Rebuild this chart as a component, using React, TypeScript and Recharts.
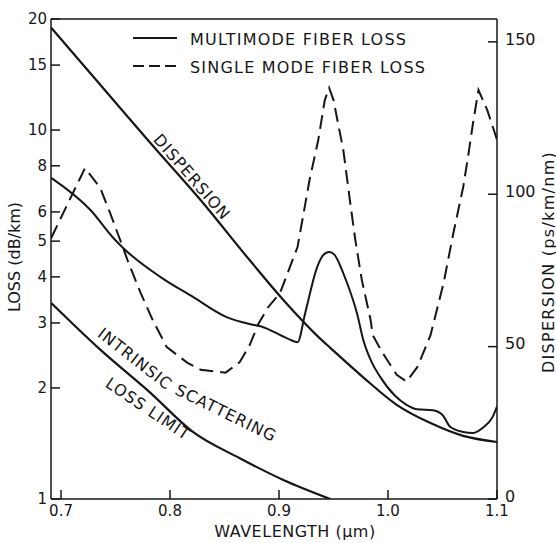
import { LineChart, Line, XAxis, YAxis, ReferenceLine } from 'recharts';

const FONT = '"DejaVu Sans", sans-serif';
const INK = '#161616';

const wavelengthTicks = [0.7, 0.8, 0.9, 1.0, 1.1];
const lossTicks = [1, 2, 3, 4, 5, 6, 7, 8, 9, 10, 15, 20];
const dispersionTicks = [0, 50, 100, 150];

// multimode fiber loss, dB/km
const multimodeWl = [0.691, 0.727, 0.748, 0.757, 0.791, 0.821, 0.852, 0.873, 0.883, 0.907, 0.917, 0.924, 0.935, 0.94, 0.946, 0.951, 0.956, 0.961, 0.966, 0.972, 0.977, 0.985, 0.993, 1.006, 1.017, 1.027, 1.041, 1.05, 1.057, 1.069, 1.078, 1.087, 1.096, 1.1];
const multimodeLoss = [7.42, 6.07, 5.1, 4.79, 4.0, 3.53, 3.11, 2.98, 2.94, 2.73, 2.66, 3.19, 4.25, 4.56, 4.67, 4.59, 4.3, 3.95, 3.6, 3.15, 2.72, 2.35, 2.14, 1.91, 1.8, 1.75, 1.74, 1.69, 1.57, 1.52, 1.51, 1.56, 1.67, 1.78];

// single mode fiber loss, dB/km
const singleWl = [0.691, 0.722, 0.736, 0.745, 0.757, 0.761, 0.773, 0.784, 0.797, 0.816, 0.828, 0.851, 0.864, 0.873, 0.881, 0.89, 0.901, 0.917, 0.928, 0.936, 0.942, 0.946, 0.95, 0.953, 0.959, 0.965, 0.97, 0.976, 0.984, 0.986, 0.995, 1.008, 1.017, 1.027, 1.039, 1.051, 1.06, 1.069, 1.073, 1.078, 1.083, 1.091, 1.098, 1.1];
const singleLoss = [5.1, 7.89, 6.97, 5.96, 4.79, 4.44, 3.62, 3.06, 2.58, 2.34, 2.24, 2.2, 2.35, 2.61, 2.98, 3.31, 3.62, 4.82, 7.32, 9.4, 12.06, 13.0, 12.06, 10.85, 8.83, 6.46, 5.04, 3.92, 3.06, 2.78, 2.49, 2.17, 2.08, 2.28, 2.78, 3.85, 5.26, 7.01, 8.3, 10.45, 12.84, 11.34, 9.82, 9.4];

// intrinsic scattering loss limit, dB/km
const scatterWl = [0.691, 0.736, 0.782, 0.821, 0.864, 0.904, 0.947];
const scatterLoss = [3.4, 2.54, 1.94, 1.52, 1.29, 1.126, 1.0];

// material dispersion, ps/km/nm (right axis)
const dispersionWl = [0.691, 0.736, 0.782, 0.828, 0.873, 0.904, 0.939, 0.947, 0.977, 1.008, 1.039, 1.069, 1.1];
const dispersionVal = [154.6, 135.9, 116.8, 98.1, 78.4, 65.3, 52.2, 49.6, 40.0, 30.9, 24.9, 20.7, 18.7];

const zip = (xs: number[], ys: number[]) => xs.map((wl, i) => ({ wl, v: ys[i] }));

const multimodeData = zip(multimodeWl, multimodeLoss);
const singleData = zip(singleWl, singleLoss);
const scatterData = zip(scatterWl, scatterLoss);
const dispersionData = zip(dispersionWl, dispersionVal);

const tickStyle = { fill: INK, fontSize: 15, fontFamily: FONT };
const labelStyle = { fill: INK, fontSize: 16, fontFamily: FONT };

export default function App() {
  return (
    <div style={{ position: 'absolute', left: 0, top: 0, background: '#fff' }}>
      <LineChart width={556} height={543} margin={{ top: 19, right: 0, bottom: 0, left: 0 }}>
        <XAxis
          type="number"
          dataKey="wl"
          domain={[0.6908, 1.1]}
          ticks={wavelengthTicks}
          tickFormatter={(v: number) => v.toFixed(1)}
          allowDataOverflow
          height={44}
          stroke={INK}
          strokeWidth={1.5}
          tickSize={-9}
          tickMargin={15}
          tick={tickStyle}
        />
        <YAxis
          yAxisId="loss"
          scale="log"
          domain={[1, 20]}
          ticks={lossTicks}
          allowDataOverflow
          width={51}
          stroke={INK}
          strokeWidth={1.5}
          tickSize={-9}
          tickMargin={13}
          tick={tickStyle}
        />
        <YAxis
          yAxisId="disp"
          orientation="right"
          domain={[0, 157.5]}
          ticks={dispersionTicks}
          allowDataOverflow
          width={59}
          stroke={INK}
          strokeWidth={1.5}
          tickSize={-9}
          tickMargin={17}
          tick={{ ...tickStyle, fontSize: 16, dy: -3 }}
        />
        <ReferenceLine yAxisId="loss" y={20} stroke={INK} strokeWidth={1.5} />

        <Line data={scatterData} yAxisId="loss" dataKey="v" type="monotone" stroke={INK} strokeWidth={2.2} dot={false} isAnimationActive={false} />
        <Line data={dispersionData} yAxisId="disp" dataKey="v" type="monotone" stroke={INK} strokeWidth={2.2} dot={false} isAnimationActive={false} />
        <Line data={multimodeData} yAxisId="loss" dataKey="v" type="monotone" stroke={INK} strokeWidth={2} dot={false} isAnimationActive={false} />
        <Line data={singleData} yAxisId="loss" dataKey="v" type="linear" stroke={INK} strokeWidth={2} strokeDasharray="14 7" dot={false} isAnimationActive={false} />

        {/* legend */}
        <line x1={133} x2={177} y1={38} y2={38} stroke={INK} strokeWidth={2} />
        <line x1={133} x2={177} y1={66} y2={66} stroke={INK} strokeWidth={2} strokeDasharray="11 5" />
        <text x={190} y={44.5} style={labelStyle} fontSize={16.5} letterSpacing={1.2}>MULTIMODE FIBER LOSS</text>
        <text x={190} y={72.5} style={labelStyle} fontSize={16.5} letterSpacing={1.2}>SINGLE MODE FIBER LOSS</text>

        {/* axis titles */}
        <text transform="translate(14,257) rotate(-90)" textAnchor="middle" dominantBaseline="central" style={labelStyle} fontSize={15}>LOSS (dB/km)</text>
        <text transform="translate(548,262) rotate(-90)" textAnchor="middle" dominantBaseline="central" style={labelStyle} fontSize={16.5} letterSpacing={1.3}>DISPERSION (ps/km/nm)</text>
        <text x={295} y={537} textAnchor="middle" style={labelStyle} fontSize={16} letterSpacing={0.5}>WAVELENGTH (µm)</text>

        {/* curve annotations */}
        <text transform="translate(192,177) rotate(49)" textAnchor="middle" dominantBaseline="central" style={labelStyle} letterSpacing={1}>DISPERSION</text>
        <text transform="translate(135,359) rotate(38)" textAnchor="middle" dominantBaseline="central" style={labelStyle} letterSpacing={1}>INTRINSIC</text>
        <text transform="translate(226,413) rotate(26)" textAnchor="middle" dominantBaseline="central" style={labelStyle} letterSpacing={1}>SCATTERING</text>
        <text transform="translate(148,409) rotate(34)" textAnchor="middle" dominantBaseline="central" style={labelStyle} letterSpacing={1}>LOSS LIMIT</text>
      </LineChart>
    </div>
  );
}
